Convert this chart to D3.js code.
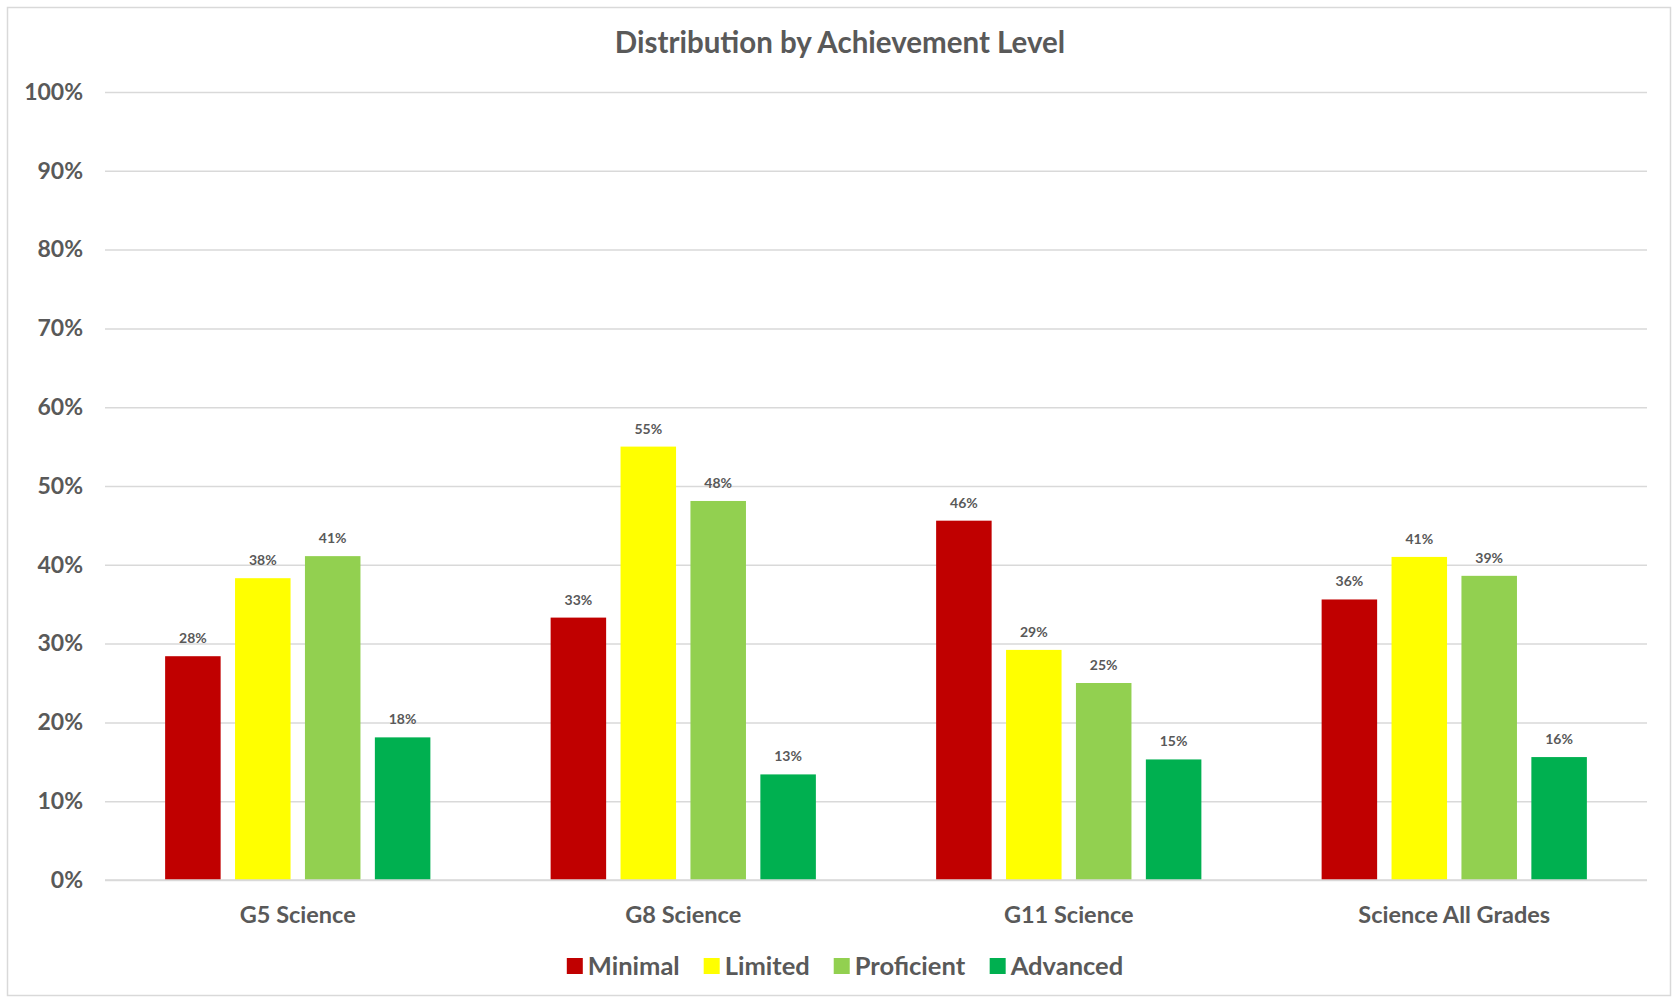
<!DOCTYPE html>
<html>
<head>
<meta charset="utf-8">
<script src="https://cdn.jsdelivr.net/npm/d3@7"></script>
<style>
  body { margin: 0; background: #fff; }
  #chart { width: 1677px; height: 998px; }
  text { font-family: Lato, "Open Sans", sans-serif; font-weight: bold; fill: #595959; }
</style>
</head>
<body>
<div id="chart"></div>
<script>
const categories = ['G5 Science', 'G8 Science', 'G11 Science', 'Science All Grades'];
const levels = ['Minimal', 'Limited', 'Proficient', 'Advanced'];
const levelColors = ['#C00000', '#FFFF00', '#92D050', '#00B050'];
const minimal = [0.284, 0.333, 0.456, 0.356];
const limited = [0.383, 0.550, 0.292, 0.410];
const proficient = [0.411, 0.481, 0.250, 0.386];
const advanced = [0.181, 0.134, 0.153, 0.156];
const yTicks = [0, 0.1, 0.2, 0.3, 0.4, 0.5, 0.6, 0.7, 0.8, 0.9, 1.0];

const seriesValues = [minimal, limited, proficient, advanced];

const width = 1677, height = 998;
const margin = { top: 92, right: 30, bottom: 118, left: 105 };

const svg = d3.select('#chart').append('svg')
  .attr('width', width).attr('height', height);

// chart frame
svg.append('rect')
  .attr('x', 7.5).attr('y', 7.5)
  .attr('width', 1663).attr('height', 988)
  .attr('fill', '#fff')
  .attr('stroke', '#D9D9D9').attr('stroke-width', 1.5);

const x0 = d3.scaleBand()
  .domain(categories)
  .range([margin.left, width - margin.right])
  .paddingInner(0).paddingOuter(0);

const x1 = d3.scaleBand()
  .domain(levels)
  .range([0, x0.bandwidth()])
  .paddingInner(0.206).paddingOuter(0.86);

const y = d3.scaleLinear()
  .domain([0, 1])
  .range([height - margin.bottom, margin.top]);

const color = d3.scaleOrdinal().domain(levels).range(levelColors);

// gridlines + y labels
const yAxis = svg.append('g')
  .attr('transform', 'translate(' + margin.left + ',0)')
  .call(d3.axisLeft(y).tickValues(yTicks).tickFormat(d3.format('.0%'))
    .tickSize(-(width - margin.left - margin.right)).tickPadding(22));
yAxis.select('.domain').remove();
yAxis.selectAll('line').attr('stroke', '#D9D9D9').attr('stroke-width', 1.5);
yAxis.selectAll('text')
  .style('font-size', '23px')
  .style('font-family', 'Lato, sans-serif')
  .attr('fill', '#595959');

// title
svg.append('text')
  .attr('x', 840).attr('y', 53)
  .attr('text-anchor', 'middle')
  .style('font-size', '29.5px')
  .text('Distribution by Achievement Level');

// bars
const groups = svg.append('g').selectAll('g')
  .data(categories)
  .join('g')
  .attr('transform', d => 'translate(' + x0(d) + ',0)');

const barData = (c, ci) => levels.map((l, li) => ({ level: l, value: seriesValues[li][ci] }));

groups.selectAll('rect')
  .data((d, i) => barData(d, i))
  .join('rect')
  .attr('x', d => x1(d.level))
  .attr('y', d => y(d.value))
  .attr('width', x1.bandwidth())
  .attr('height', d => y(0) - y(d.value))
  .attr('fill', d => color(d.level));

groups.selectAll('text.val')
  .data((d, i) => barData(d, i))
  .join('text')
  .attr('class', 'val')
  .attr('x', d => x1(d.level) + x1.bandwidth() / 2)
  .attr('y', d => y(d.value) - 13)
  .attr('text-anchor', 'middle')
  .style('font-size', '14px')
  .text(d => d3.format('.0%')(d.value));

// x axis line + labels
svg.append('line')
  .attr('x1', margin.left).attr('x2', width - margin.right)
  .attr('y1', y(0)).attr('y2', y(0))
  .attr('stroke', '#D9D9D9').attr('stroke-width', 1.5);

svg.append('g').selectAll('text')
  .data(categories)
  .join('text')
  .attr('x', d => x0(d) + x0.bandwidth() / 2)
  .attr('y', 923)
  .attr('text-anchor', 'middle')
  .style('font-size', '23.5px')
  .text(d => d);

// legend
const legend = svg.append('g');
const items = legend.selectAll('g').data(levels).join('g');
items.append('rect')
  .attr('width', 16).attr('height', 16)
  .attr('y', -17)
  .attr('fill', d => color(d));
items.append('text')
  .attr('x', 21)
  .style('font-size', '25.5px')
  .text(d => d);
let lx = 0;
const gap = 24;
items.each(function () {
  const w = this.getBBox().width;
  d3.select(this).attr('transform', 'translate(' + lx + ',0)');
  lx += w + gap;
});
const legendW = lx - gap;
legend.attr('transform', 'translate(' + (845 - legendW / 2) + ',975)');
</script>
</body>
</html>
